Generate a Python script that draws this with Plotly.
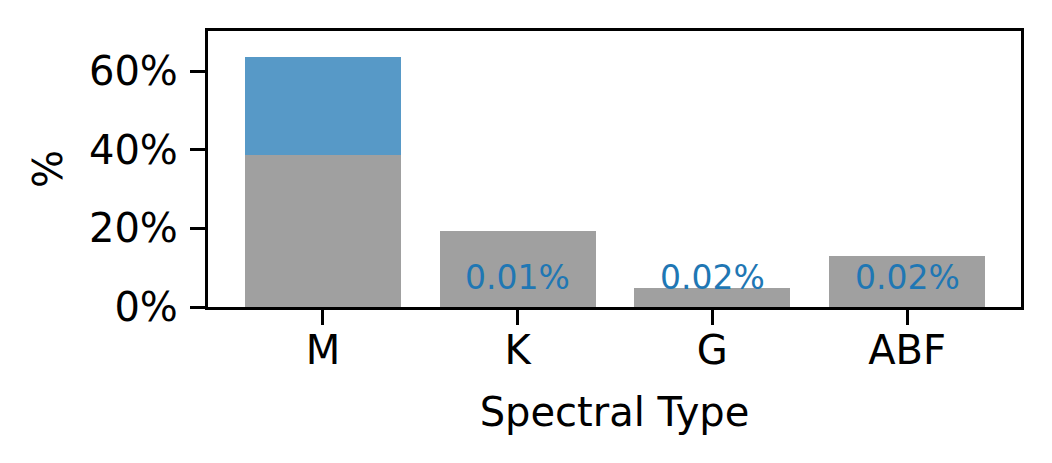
import plotly.graph_objects as go

# data
spectral_types = ["M", "K", "G", "ABF"]
base_pct = [38.6, 19.3, 4.8, 13.0]
extra_pct = [25.0, 0.01, 0.02, 0.02]
extra_labels = ["", "0.01%", "0.02%", "0.02%"]
label_y = 7.5

grey = "#a0a0a0"
blue = "#5799c7"
text_blue = "#1f77b4"
font = "DejaVu Sans"

# sub-pixel slices are invisible in the reference; don't let them render as 1px lines
extra_drawn = [v if v >= 1 else 0 for v in extra_pct]

fig = go.Figure()
fig.add_trace(go.Bar(x=spectral_types, y=base_pct, marker_color=grey,
                     marker_line_width=0, width=0.8))
fig.add_trace(go.Bar(x=spectral_types, y=extra_drawn, marker_color=blue,
                     marker_line_width=0, width=0.8))

for cat, lab in zip(spectral_types, extra_labels):
    if lab:
        fig.add_annotation(x=cat, y=label_y, text=lab, showarrow=False,
                           font=dict(family=font, size=33, color=text_blue),
                           yanchor="middle", xanchor="center")

axis_common = dict(
    showline=True, linecolor="black", linewidth=3.3, mirror=True,
    ticks="outside", ticklen=15, tickwidth=3.3, tickcolor="black",
    showgrid=False, zeroline=False, automargin=False,
    tickfont=dict(family=font, size=40, color="black"),
)

# page body has an 8px margin, so the figure box starts at (8, 8)
fig.update_layout(
    barmode="stack",
    width=1052, height=463,
    margin=dict(l=200, r=39, t=23, b=164),
    plot_bgcolor="white", paper_bgcolor="white",
    showlegend=False,
    bargap=0.2,
    xaxis=dict(**axis_common, range=[-0.59, 3.585], ticklabelstandoff=-9,
               title=dict(text="Spectral Type", standoff=26,
                          font=dict(family=font, size=40, color="black"))),
    yaxis=dict(**axis_common, range=[0, 70.2], dtick=20, ticksuffix="%",
               ticklabelstandoff=4,
               title=dict(text="%", standoff=14,
                          font=dict(family=font, size=40, color="black"))),
)

fig.write_html("out.html")
